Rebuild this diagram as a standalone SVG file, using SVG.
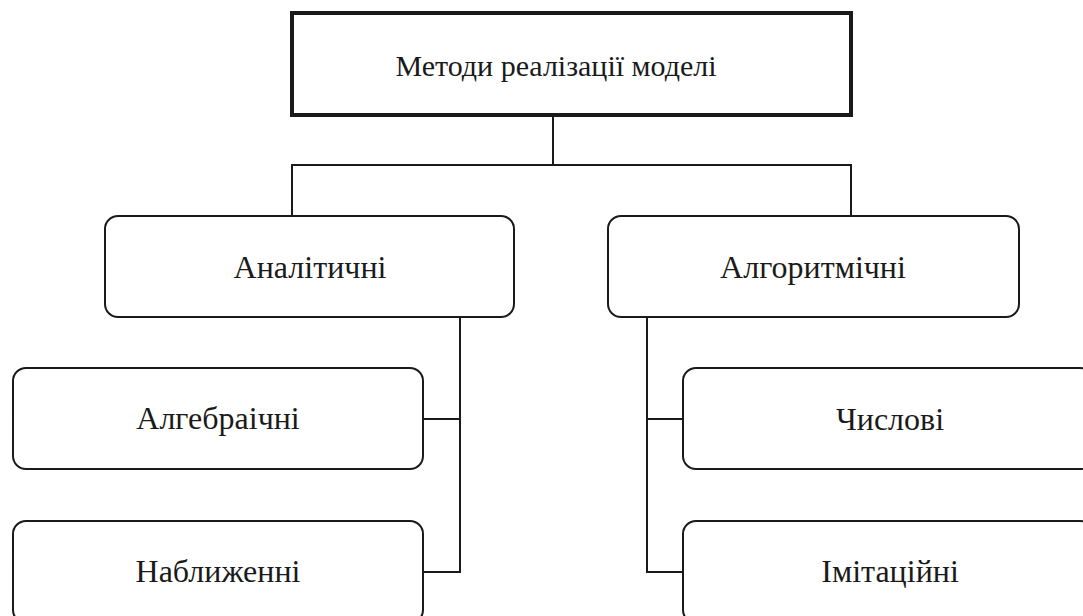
<svg xmlns="http://www.w3.org/2000/svg" width="1083" height="616" viewBox="0 0 1083 616">
<style>
.box{fill:#fff;stroke:#1a1a1a;stroke-width:2}
.top{fill:#fff;stroke:#1a1a1a;stroke-width:4}
.lbl{font-family:"Liberation Serif","Times New Roman",serif;font-size:32px;fill:#1a1a1a;text-anchor:middle}
.lblt{font-size:30px}
.conn{fill:none;stroke:#1a1a1a;stroke-width:2}
</style>
<rect width="1083" height="616" fill="#fff"/>
<g id="connectors">
<path class="conn" d="M553,115 V165 M292,216 V165 H851 V216"/>
<path class="conn" d="M460,317 V572 H423 M460,419 H423"/>
<path class="conn" d="M647,317 V572 H683 M647,419 H683"/>
</g>
<g id="n-root">
<rect class="top" x="292" y="13" width="559" height="102"/>
<text class="lbl lblt" x="556" y="76">Методи реалізації моделі</text>
</g>
<g id="n-analytic">
<rect class="box" x="105" y="216" width="409" height="101" rx="13"/>
<text class="lbl" x="310" y="278">Аналітичні</text>
</g>
<g id="n-algorithmic">
<rect class="box" x="608" y="216" width="411" height="101" rx="13"/>
<text class="lbl" x="813" y="278">Алгоритмічні</text>
</g>
<g id="n-algebraic">
<rect class="box" x="13" y="368" width="410" height="101" rx="13"/>
<text class="lbl" x="218" y="429">Алгебраічні</text>
</g>
<g id="n-approx">
<rect class="box" x="13" y="521" width="410" height="102" rx="13"/>
<text class="lbl" x="218" y="582">Наближенні</text>
</g>
<g id="n-numeric">
<rect class="box" x="683" y="368" width="410" height="101" rx="13"/>
<text class="lbl" x="890" y="430">Числові</text>
</g>
<g id="n-imitation">
<rect class="box" x="683" y="521" width="410" height="102" rx="13"/>
<text class="lbl" x="890" y="582">Імітаційні</text>
</g>
</svg>
